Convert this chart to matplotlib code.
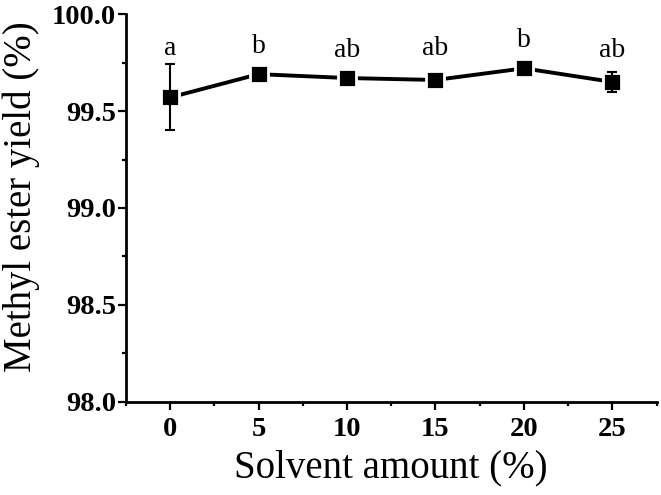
import matplotlib
matplotlib.use('Agg')
from matplotlib import pyplot as plt
from matplotlib.ticker import MultipleLocator, FormatStrFormatter

solvent = [0, 5, 10, 15, 20, 25]
yield_mean = [99.57, 99.69, 99.67, 99.66, 99.72, 99.65]
yield_err = [0.17, 0.02, 0.01, 0.01, 0.02, 0.053]
letters = ["a", "b", "ab", "ab", "b", "ab"]
letter_y = [99.79, 99.80, 99.78, 99.787, 99.83, 99.78]

plt.rcParams['font.family'] = ['Liberation Serif', 'DejaVu Serif']

fig = plt.figure(figsize=(6.61, 4.95), dpi=100)
ax = fig.add_axes([0.1906, 0.1879, 0.8026, 0.7838])

# line, then markers with white edge (gap look), then error bars on top
ax.plot(solvent, yield_mean, color='black', lw=2.8, zorder=2)
ax.plot(solvent, yield_mean, ls='none', marker='s', ms=13.5, mfc='black',
        mec='white', mew=2, zorder=3)
ax.errorbar(solvent, yield_mean, yerr=yield_err, fmt='none', ecolor='black',
            elinewidth=1.5, capsize=3.6, capthick=1.5, zorder=4)

for x, y, t in zip(solvent, letter_y, letters):
    ax.text(x, y, t, ha='center', va='baseline', fontsize=20)

ax.set_xlim(-2.5, 27.5)
ax.set_ylim(98.0, 100.0)
ax.xaxis.set_major_locator(MultipleLocator(5))
ax.xaxis.set_minor_locator(MultipleLocator(2.5))
ax.yaxis.set_major_locator(MultipleLocator(0.5))
ax.yaxis.set_minor_locator(MultipleLocator(0.25))
ax.yaxis.set_major_formatter(FormatStrFormatter('%.1f'))

for s in ['top', 'right']:
    ax.spines[s].set_visible(False)
for s in ['left', 'bottom']:
    ax.spines[s].set_linewidth(2)

ax.tick_params(which='major', direction='out', length=5.5, width=1.6,
               labelsize=20.5)
ax.tick_params(axis='y', which='major', pad=1.5)
ax.tick_params(axis='x', which='major', pad=5)
ax.tick_params(which='minor', direction='out', length=3, width=1.6)
for lbl in ax.get_xticklabels() + ax.get_yticklabels():
    lbl.set_fontweight('bold')

ax.set_xlabel("Solvent amount (%)", fontsize=28, labelpad=6)
ax.set_ylabel("Methyl ester yield (%)", fontsize=28)
ax.yaxis.set_label_coords(-0.162, 0.53)

fig.savefig("out.png", dpi=100)
